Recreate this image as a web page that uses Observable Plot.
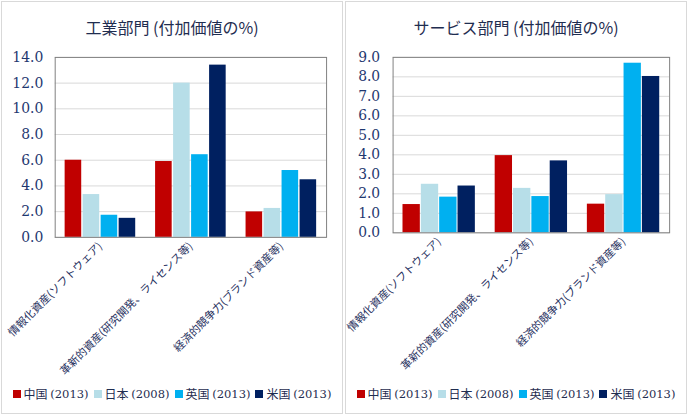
<!DOCTYPE html>
<html><head><meta charset="utf-8">
<script src="https://cdn.jsdelivr.net/npm/d3@7"></script>
<script src="https://cdn.jsdelivr.net/npm/@observablehq/plot@0.6"></script>
<style>
body{margin:0;background:#fff;}
#root{position:relative;width:688px;height:416px;font-family:"Noto Sans CJK JP",sans-serif;color:#1f2d50;overflow:hidden}
.panel{position:absolute;top:1px;height:413px;border:1px solid #d9d9d9;box-sizing:border-box}
.title{position:absolute;top:13px;left:0;width:100%;text-align:center;font-size:16px;color:#1f2d50;white-space:nowrap}
.chart{position:absolute;top:40px;overflow:visible}
.legend{position:absolute;top:383px;left:0;width:100%;display:flex;justify-content:center;gap:5px;font-size:12px;color:#1f2d50;white-space:nowrap}
.legend span.item{display:flex;align-items:center}
.legend i{display:inline-block;width:8px;height:8px;margin-right:3px}
.legend .yr{font-family:"DejaVu Serif",serif;font-size:11.5px}
</style></head>
<body><div id="root"></div>
<script>
const categories = ["情報化資産(ソフトウェア)", "革新的資産(研究開発、ライセンス等)", "経済的競争力(ブランド資産等)"];
const seriesNames = ["中国 (2013)", "日本 (2008)", "英国 (2013)", "米国 (2013)"];
const seriesColors = ["#C00000", "#B7DEE8", "#00B0F0", "#002060"];
// values per category, in series order
const industryValues = [[6.0, 3.33, 1.72, 1.48], [5.9, 12.0, 6.43, 13.4], [1.98, 2.25, 5.2, 4.48]];
const serviceValues = [[1.45, 2.49, 1.83, 2.4], [3.96, 2.28, 1.86, 3.69], [1.47, 1.96, 8.7, 8.02]];
const industryTicks = [0, 2, 4, 6, 8, 10, 12, 14];
const serviceTicks = [0, 1, 2, 3, 4, 5, 6, 7, 8, 9];
const industryTitle = "工業部門 (付加価値の%)";
const serviceTitle = "サービス部門 (付加価値の%)";

const root = document.getElementById("root");

function makePanel(cfg) {
  const panel = document.createElement("div");
  panel.className = "panel";
  panel.style.left = cfg.panelLeft + "px";
  panel.style.width = cfg.panelWidth + "px";
  root.appendChild(panel);

  const t = document.createElement("div");
  t.className = "title";
  t.textContent = cfg.title;
  panel.appendChild(t);

  const rows = [];
  categories.forEach((c, ci) => seriesNames.forEach((s, si) => rows.push({cat: c, series: s, si, value: cfg.values[ci][si]})));

  const pIn = 0.22, pOut = 0.11, barPad = 0.08;
  const xs = Plot.scale({x: {type: "band", domain: categories, range: [cfg.marginLeft, cfg.width - cfg.marginRight], paddingInner: pIn, paddingOuter: pOut}});
  const bw = xs.bandwidth;
  const step = bw / (seriesNames.length - barPad);
  const barW = step * (1 - barPad);

  const bars = seriesNames.map((s, si) => Plot.barY(rows.filter(d => d.series === s), {
    x: "cat", y: "value", fill: "series",
    insetLeft: si * step, insetRight: bw - (si * step + barW)
  }));

  const chart = Plot.plot({
    width: cfg.width, height: 340,
    marginLeft: cfg.marginLeft, marginRight: cfg.marginRight, marginTop: 15, marginBottom: cfg.marginBottom,
    style: {fontFamily: "'Noto Sans CJK JP', sans-serif", color: "#1f2d50", background: "transparent", overflow: "visible"},
    x: {type: "band", domain: categories, paddingInner: pIn, paddingOuter: pOut, label: null},
    y: {domain: cfg.domain, label: null},
    color: {domain: seriesNames, range: seriesColors},
    marks: [
      Plot.gridY(cfg.ticks, {stroke: "#d9d9d9", strokeOpacity: 1}),
      ...bars,
      Plot.frame({stroke: "#808080"}),
      Plot.axisY(cfg.ticks, {tickSize: 0, tickPadding: cfg.tickPad, tickFormat: d3.format(".1f"), fontSize: 14, fontFamily: "DejaVu Serif", fill: "#1f3870", label: null}),
      Plot.axisX({tickSize: 0, tickPadding: 7, tickRotate: -45, fontSize: 11, fill: "#1f3060", label: null})
    ]
  });
  chart.classList.add("chart");
  chart.style.left = (cfg.svgLeft - cfg.panelLeft) + "px";
  panel.appendChild(chart);

  const lg = document.createElement("div");
  lg.className = "legend";
  seriesNames.forEach((s, i) => {
    const it = document.createElement("span");
    it.className = "item";
    const [name, yr] = s.split(" ");
    it.innerHTML = `<i style="background:${seriesColors[i]}"></i>${name}&nbsp;<span class="yr">${yr}</span>`;
    lg.appendChild(it);
  });
  panel.appendChild(lg);
}

makePanel({title: industryTitle, values: industryValues, ticks: industryTicks, domain: [0, 14],
  panelLeft: 1, panelWidth: 342, svgLeft: 0, width: 342, marginLeft: 54, marginRight: 15, marginBottom: 144, tickPad: 12});
makePanel({title: serviceTitle, values: serviceValues, ticks: serviceTicks, domain: [0, 9],
  panelLeft: 345, panelWidth: 342, svgLeft: 344, width: 343, marginLeft: 48, marginRight: 16, marginBottom: 148, tickPad: 13});
</script></body></html>
